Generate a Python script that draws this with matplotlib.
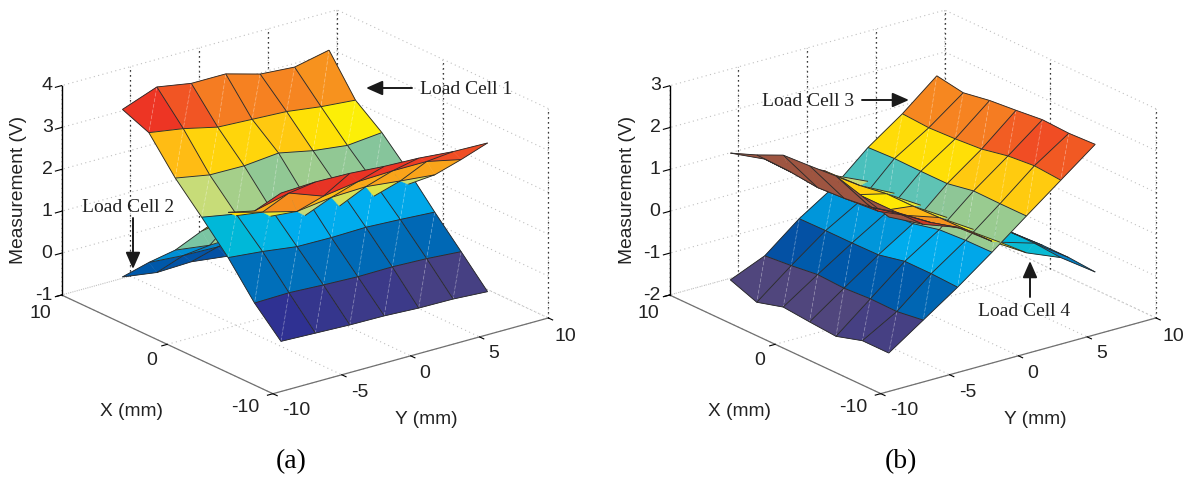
import numpy as np
import matplotlib
matplotlib.use("Agg")
import matplotlib.pyplot as plt
from matplotlib.colors import LinearSegmentedColormap
from matplotlib.patches import FancyArrowPatch
from mpl_toolkits.mplot3d import proj3d
from mpl_toolkits.mplot3d.art3d import Poly3DCollection, Line3DCollection

X_VALUES = [7.5, 5, 2.5, 0, -2.5, -5, -7.5]
Y_VALUES = [-7.5, -5, -2.5, 0, 2.5, 5, 7.5]

LOAD_CELL_1 = [
    [3.50, 3.81, 3.67, 3.67, 3.44, 3.38, 3.56],
    [3.24, 3.11, 2.92, 2.88, 2.84, 2.73, 2.66],
    [2.45, 2.30, 2.29, 2.37, 2.20, 2.10, 2.18],
    [1.81, 1.66, 1.57, 1.63, 1.58, 1.52, 1.56],
    [1.14, 1.06, 0.95, 0.94, 0.96, 0.92, 0.87],
    [0.35, 0.37, 0.33, 0.30, 0.31, 0.28, 0.22],
    [-0.27, -0.30, -0.33, -0.34, -0.38, -0.39, -0.44],
]
LOAD_CELL_2 = [
    [-0.50, -0.62, -0.59, -0.69, -0.70, -0.75, -0.75],
    [0.14, 0.08, 0.06, 0.05, 0.05, 0.05, 0.05],
    [0.73, 0.62, 0.65, 0.60, 0.60, 0.60, 0.60],
    [1.48, 1.62, 1.38, 1.17, 1.17, 1.18, 1.24],
    [2.22, 2.00, 1.79, 1.90, 1.93, 1.84, 1.76],
    [2.55, 2.75, 2.45, 2.57, 2.60, 2.60, 2.42],
    [3.27, 3.31, 3.29, 3.23, 3.20, 3.13, 3.11],
]
LOAD_CELL_3 = np.array([
    [-1.57, -1.81, -1.63, -1.69, -1.74, -1.55, -1.55],
    [-1.22, -1.16, -1.08, -1.11, -1.07, -1.08, -0.99],
    [-0.56, -0.55, -0.55, -0.54, -0.40, -0.40, -0.43],
    [-0.03, -0.07, -0.05, -0.02, 0.13, 0.17, 0.18],
    [0.69, 0.72, 0.71, 0.71, 0.83, 0.82, 0.82],
    [1.27, 1.23, 1.26, 1.31, 1.44, 1.50, 1.45],
    [1.95, 1.84, 1.95, 2.01, 2.08, 2.05, 2.08],
]).T.tolist()
LOAD_CELL_4 = np.array([
    [1.46, 1.71, 2.00, 2.04, 2.09, 1.90, 1.70],
    [1.09, 1.07, 1.00, 1.04, 1.12, 1.29, 1.30],
    [0.70, 0.87, 0.60, 0.50, 0.70, 0.82, 1.00],
    [0.25, 0.30, 0.40, 0.40, 0.42, 0.43, 0.44],
    [-0.12, -0.11, -0.10, -0.10, -0.09, -0.10, -0.06],
    [-0.40, -0.40, -0.40, -0.40, -0.35, -0.35, -0.40],
    [-0.95, -0.95, -0.95, -0.96, -0.92, -0.92, -0.97],
]).T.tolist()

X_TICKS = [-10, 0, 10]
Y_TICKS = [-10, -5, 0, 5, 10]
Z_TICKS_A = [-1, 0, 1, 2, 3, 4]
Z_TICKS_B = [-2, -1, 0, 1, 2, 3]

W, H = 1187, 479
plt.rcParams["font.family"] = ["Liberation Sans", "DejaVu Sans"]
plt.rcParams["grid.color"] = "#c0c0c0"
plt.rcParams["grid.linestyle"] = (0, (1, 3))
plt.rcParams["grid.linewidth"] = 0.8

STOPS = [(0, (80, 70, 125)), (.04, (46, 49, 146)), (.125, (0, 84, 166)), (.19, (0, 114, 188)),
         (.25, (0, 130, 200)), (.33, (0, 174, 239)), (.375, (0, 185, 215)), (.43, (100, 195, 178)),
         (.47, (141, 198, 150)), (.53, (200, 220, 120)), (.6, (255, 240, 0)), (.68, (255, 190, 20)),
         (.74, (247, 148, 30)), (.80, (245, 120, 35)), (.87, (237, 50, 36)), (.95, (200, 60, 40)),
         (1, (158, 85, 65))]
CMAP = LinearSegmentedColormap.from_list("cmyk_jet", [(p, tuple(c / 255 for c in rgb)) for p, rgb in STOPS])

fig = plt.figure(figsize=(W / 100, H / 100), dpi=100)


def to_px(ax, x, y, z):
    xp, yp, _ = proj3d.proj_transform(x, y, z, ax.get_proj())
    px, py = ax.transData.transform((xp, yp))
    return px, H - py


def ftext(x, y, s, **kw):
    fig.text(x / W, 1 - y / H, s, **kw)


def surface_layers(z_main, z_other, vmin, vmax, threshold, rank):
    """Split a surface into triangles behind or in front of the main surface."""
    z = np.array(z_other, float)
    d = z - np.array(z_main, float)
    xs, ys = X_VALUES, Y_VALUES
    layers = {}
    for i in range(6):
        for j in range(6):
            col = CMAP(np.clip((z[i + 1, j] - vmin) / (vmax - vmin), 0, 1))
            for tri, grid in (
                (((i, j), (i, j + 1), (i + 1, j)), (((i, j), (i, j + 1)), ((i, j), (i + 1, j)))),
                (((i, j + 1), (i + 1, j + 1), (i + 1, j)),
                 (((i, j + 1), (i + 1, j + 1)), ((i + 1, j), (i + 1, j + 1)))),
            ):
                side = 1 if np.mean([d[p] for p in tri]) > threshold else 0
                polys, cols, edges = layers.setdefault((side, rank(i, j) if side else 0), ([], [], set()))
                polys.append([(xs[a], ys[b], z[a, b]) for a, b in tri])
                cols.append(col)
                edges.update(grid)
    return layers, z


def add_mesh(ax, z, polys, cols, edges, base, diag=False):
    pc = Poly3DCollection(polys, facecolors=cols, edgecolors=cols, linewidths=0.3, zsort="average")
    pc.set_zorder(base)
    ax.add_collection3d(pc, autolim=False)
    xs, ys = X_VALUES, Y_VALUES
    segs = [[(xs[a[0]], ys[a[1]], z[a]), (xs[b[0]], ys[b[1]], z[b])] for a, b in edges]
    lc = Line3DCollection(segs, colors="#2b2b2b", linewidths=0.65)
    lc.set_zorder(base + 1)
    ax.add_collection3d(lc, autolim=False)
    if diag:
        dsegs = [[(xs[i], ys[j + 1], z[i, j + 1]), (xs[i + 1], ys[j], z[i + 1, j])]
                 for i in range(6) for j in range(6)]
        dc = Line3DCollection(dsegs, colors=[(1, 1, 1, 0.35)], linewidths=0.55, linestyles=[(0, (5, 2.5))])
        dc.set_zorder(base + 0.5)
        ax.add_collection3d(dc, autolim=False)


X_LABEL_OFFSETS = {10: (-21, 18), 0: (-16, 16), -10: (-28, 14)}
Y_LABEL_OFFSETS = {-10: (23, 17), -5: (18, 18), 0: (14, 18), 5: (14, 17), 10: (17, 19)}


def rank_flat(i, j):
    return 0


def rank_cell4(i, j):
    if j == 0:
        return 2 if i >= 4 else 4
    return {1: 3, 2: 1}.get(j, 0)


def panel(left_px, right_px, zticks, z_main, z_other, norm_main, norm_other, threshold, rank):
    size = 760
    ax = fig.add_axes([(left_px - 90) / W, (H - size) / 2 / H, size / W, size / H],
                      projection="3d", computed_zorder=False)
    ax.patch.set_alpha(0)
    ax.set_proj_type("ortho")
    ax.view_init(elev=21, azim=-37.5)
    ax.set_xlim(10, -10, view_margin=0)
    ax.set_ylim(-10, 10, view_margin=0)
    ax.set_zlim(zticks[0], zticks[-1], view_margin=0)
    zoom = 1.0
    ax.set_box_aspect((1, 1, 0.646), zoom=zoom)
    for _ in range(3):
        ax.apply_aspect()
        p0 = to_px(ax, 10, -10, zticks[0])
        p1 = to_px(ax, -10, 10, zticks[0])
        zoom *= (right_px[0] - left_px) / (p1[0] - p0[0])
        ax.set_box_aspect((1, 1, 0.646), zoom=zoom)
        ax.apply_aspect()
        p0 = to_px(ax, 10, -10, zticks[0])
        pos = ax.get_position()
        ax.set_position([pos.x0 + (left_px - p0[0]) / W, pos.y0 - (295 - p0[1]) / H, pos.width, pos.height])
    ax.apply_aspect()

    ax.set_xticks(X_TICKS)
    ax.set_yticks(Y_TICKS)
    ax.set_zticks(zticks)
    ax.set_xticklabels([])
    ax.set_yticklabels([])
    ax.set_zticklabels([])
    for axis in (ax.xaxis, ax.yaxis, ax.zaxis):
        axis.set_pane_color((1, 1, 1, 0))
        axis.pane.set_edgecolor((1, 1, 1, 0))
        axis._axinfo["tick"]["inward_factor"] = 0.25
        axis._axinfo["tick"]["outward_factor"] = 0.0
        axis._axinfo["tick"]["linewidth"] = {True: 0.8, False: 0.5}
        axis._axinfo["tick"]["color"] = "#707070"
    ax.zaxis._axinfo["tick"]["inward_factor"] = 0.0
    ax.xaxis.line.set_color("#707070")
    ax.yaxis.line.set_color("#707070")
    ax.xaxis.line.set_linewidth(0.9)
    ax.yaxis.line.set_linewidth(0.9)
    ax.zaxis.line.set_color((0, 0, 0, 0))

    ax.plot([10, 10], [-10, -10], [zticks[0], zticks[-1]], color="black", lw=1.0, zorder=1.5)
    for zt in zticks:
        ax.plot([10, 10], [-10, -10.45], [zt, zt], color="black", lw=0.8, zorder=1.5)
    for y in Y_TICKS[1:]:
        ax.plot([10, 10], [y, y], [zticks[0], zticks[-1]], color="black", ls=(0, (1, 3)), lw=0.9, zorder=1)
    for x in X_TICKS[:2]:
        ax.plot([x, x], [10, 10], [zticks[0], zticks[-1]], color="black", ls=(0, (1, 3)), lw=0.9, zorder=1)

    layers, z2 = surface_layers(z_main, z_other, *norm_other, threshold, rank)
    z1 = np.array(z_main, float)
    base = 2
    for key in sorted(k for k in layers if k[0] == 0):
        add_mesh(ax, z2, *layers[key], base=base)
        base += 2
    main_layers, _ = surface_layers(z_main, z_main, *norm_main, -1e9, rank_flat)
    for key in main_layers:
        add_mesh(ax, z1, *main_layers[key], base=base, diag=True)
        base += 2
    for key in sorted(k for k in layers if k[0] == 1):
        add_mesh(ax, z2, *layers[key], base=base)
        base += 2

    for zt in zticks:
        px, py = to_px(ax, 10, -10, zt)
        ftext(px - 9, py, str(zt), ha="right", va="center", fontsize=14, color="#222222")
    for xt, (ox, oy) in X_LABEL_OFFSETS.items():
        px, py = to_px(ax, xt, -10, zticks[0])
        ftext(px + ox, py + oy, str(xt), ha="center", va="center", fontsize=14, color="#222222")
    for yt, (ox, oy) in Y_LABEL_OFFSETS.items():
        px, py = to_px(ax, -10, yt, zticks[0])
        ftext(px + ox, py + oy, str(yt), ha="center", va="center", fontsize=14, color="#222222")
    return ax


panel(61.6, (548.4, 318), Z_TICKS_A, LOAD_CELL_1, LOAD_CELL_2, (-0.44, 3.81), (-0.44, 3.81), 0.3, rank_flat)
panel(669.6, (1156, 318), Z_TICKS_B, LOAD_CELL_3, LOAD_CELL_4, (-1.6, 2.08), (-1.0, 1.46), -0.3, rank_cell4)

for dx in (0, 609):
    ftext(19 + dx, 190, "Measurement (V)", rotation=90, ha="center", va="center", fontsize=13.8, color="#222222")
    ftext(131 + dx, 412, "X (mm)", ha="center", va="center", fontsize=13.8, color="#222222")
    ftext(426 + dx, 419, "Y (mm)", ha="center", va="center", fontsize=13.8, color="#222222")

serif = ["Liberation Serif", "DejaVu Serif"]
ftext(291, 462, "(a)", ha="center", va="center", fontsize=20, family=serif)
ftext(901, 462, "(b)", ha="center", va="center", fontsize=20, family=serif)
for x, y, s in [(420, 90, "Load Cell 1"), (82, 207, "Load Cell 2"), (762, 102, "Load Cell 3"), (978, 311, "Load Cell 4")]:
    ftext(x, y, s, ha="left", va="center", fontsize=14, family=serif, color="#222222")
for p0, p1 in [((412, 88), (366, 88)), ((133, 218), (133, 269)), ((862, 100), (909, 100)), ((1030, 297), (1030, 261))]:
    fig.add_artist(FancyArrowPatch(
        (p0[0] / W, 1 - p0[1] / H), (p1[0] / W, 1 - p1[1] / H), transform=fig.transFigure,
        arrowstyle="-|>,head_length=0.5,head_width=0.22", mutation_scale=20, color="#1a1a1a", lw=1.4,
        shrinkA=0, shrinkB=0))

fig.savefig("out.png", dpi=100, facecolor="white")
